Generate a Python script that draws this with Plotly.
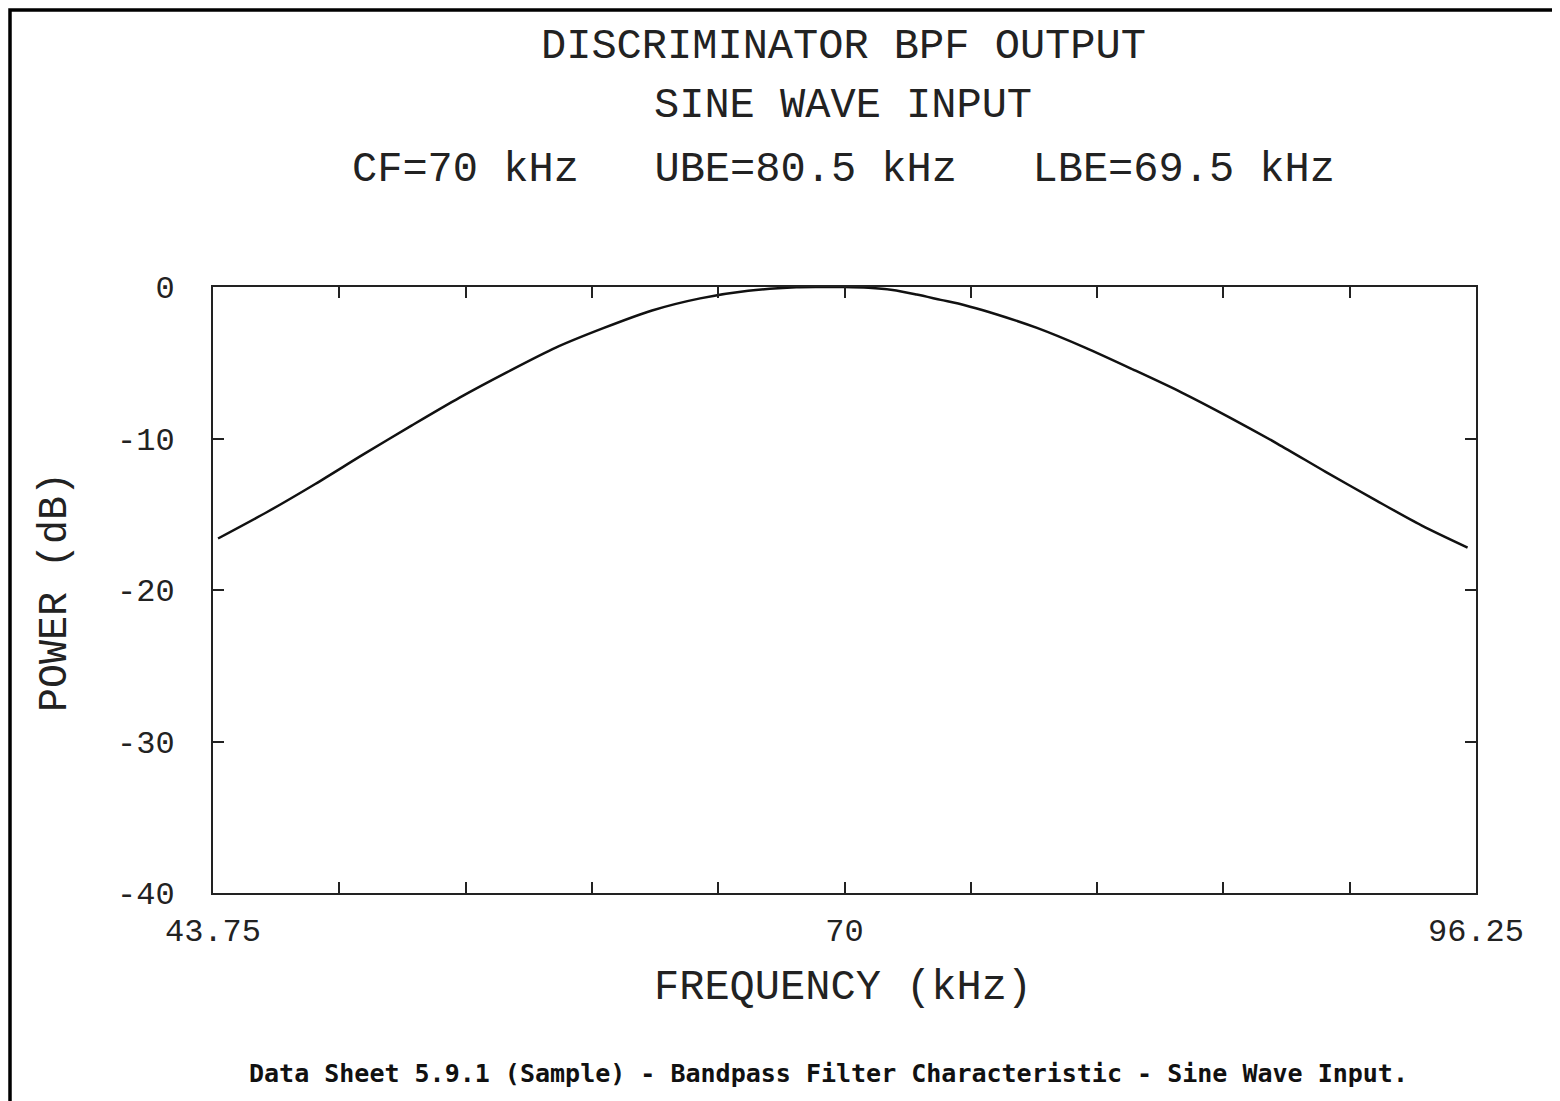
import plotly.graph_objects as go

# ---- data ----
freq_khz = [43.96, 46.0, 48.0, 50.0, 52.0, 54.0, 56.0, 58.0, 60.0, 62.0,
            64.0, 66.0, 68.0, 69.0, 70.0, 71.0, 72.0, 73.0, 74.0, 75.0,
            76.0, 78.0, 80.0, 82.0, 84.0, 86.0, 88.0, 90.0, 92.0, 94.0, 95.9]
power_db = [-16.6, -14.85, -13.0, -11.05, -9.15, -7.3, -5.6, -4.0, -2.7, -1.55,
            -0.75, -0.25, -0.02, 0.0, 0.0, -0.05, -0.2, -0.5, -0.85, -1.2,
            -1.65, -2.7, -4.0, -5.45, -6.95, -8.6, -10.35, -12.2, -14.0, -15.75, -17.2]

x_tickvals = [43.75, 49.0, 54.25, 59.5, 64.75, 70.0, 75.25, 80.5, 85.75, 91.0, 96.25]
x_ticktext = ["43.75", "", "", "", "", "70", "", "", "", "", "96.25"]
y_tickvals = [0, -10, -20, -30, -40]
y_ticktext = ["0", "-10", "-20", "-30", "-40"]

title_lines = ["DISCRIMINATOR BPF OUTPUT", "SINE WAVE INPUT",
               "CF=70 kHz   UBE=80.5 kHz   LBE=69.5 kHz"]
x_title = "FREQUENCY (kHz)"
y_title = "POWER (dB)"
caption = "Data Sheet 5.9.1 (Sample) - Bandpass Filter Characteristic - Sine Wave Input."

PLOT_FONT = "Liberation Mono, DejaVu Sans Mono, monospace"

fig = go.Figure()
fig.add_trace(go.Scatter(
    x=freq_khz, y=power_db, mode="lines",
    line=dict(color="#111111", width=2.5, shape="spline", smoothing=0.8),
    hoverinfo="x+y", showlegend=False,
))

OFF = 8  # page body margin
W, H = 1560, 1101
L, R, T, B = 213 - OFF, 92, 287 - OFF, 216
pw, ph = W - L - R, H - T - B


def px_x(px):
    return (px - OFF - L) / pw


def px_y(py):
    return (H - B - (py - OFF)) / ph


axis_common = dict(
    showline=True, linecolor="#222222", linewidth=2, mirror="allticks",
    ticks="inside", ticklen=11, tickwidth=1.5, tickcolor="#222222",
    showgrid=False, zeroline=False,
    tickfont=dict(family=PLOT_FONT, size=32, color="#222222"),
)

fig.update_layout(
    width=W, height=H,
    margin=dict(l=L, r=R, t=T, b=B, pad=0),
    paper_bgcolor="white", plot_bgcolor="white",
    xaxis=dict(range=[43.75, 96.25], tickvals=x_tickvals, ticktext=x_ticktext,
               ticklabelstandoff=8, **axis_common),
    yaxis=dict(range=[-40, 0], tickvals=y_tickvals, ticktext=y_ticktext,
               ticklabelstandoff=30, **axis_common),
)

ann = []
title_y_px = [47, 106, 170]
for txt, ypx in zip(title_lines, title_y_px):
    ann.append(dict(text=txt, x=px_x(843), y=px_y(ypx), xref="paper", yref="paper",
                    xanchor="center", yanchor="middle", showarrow=False,
                    font=dict(family=PLOT_FONT, size=42, color="#222222")))
ann.append(dict(text=x_title, x=px_x(843), y=px_y(988), xref="paper", yref="paper",
                xanchor="center", yanchor="middle", showarrow=False,
                font=dict(family=PLOT_FONT, size=42, color="#222222")))
ann.append(dict(text=y_title, x=px_x(55), y=px_y(592), xref="paper", yref="paper",
                xanchor="center", yanchor="middle", showarrow=False, textangle=-90,
                font=dict(family=PLOT_FONT, size=40, color="#222222")))
ann.append(dict(text="<b>" + caption + "</b>", x=px_x(828), y=px_y(1073),
                xref="paper", yref="paper", xanchor="center", yanchor="middle",
                showarrow=False,
                font=dict(family="DejaVu Sans Mono, monospace", size=25, color="#111111")))
fig.update_layout(annotations=ann)

# outer border of the scanned sheet (top/left visible, right/bottom beyond the page)
fig.add_shape(type="rect", xref="paper", yref="paper",
              x0=px_x(10), x1=px_x(1600), y0=px_y(1140), y1=px_y(10),
              line=dict(color="black", width=3.5), fillcolor="rgba(0,0,0,0)", layer="above")

fig.write_html("out.html")
